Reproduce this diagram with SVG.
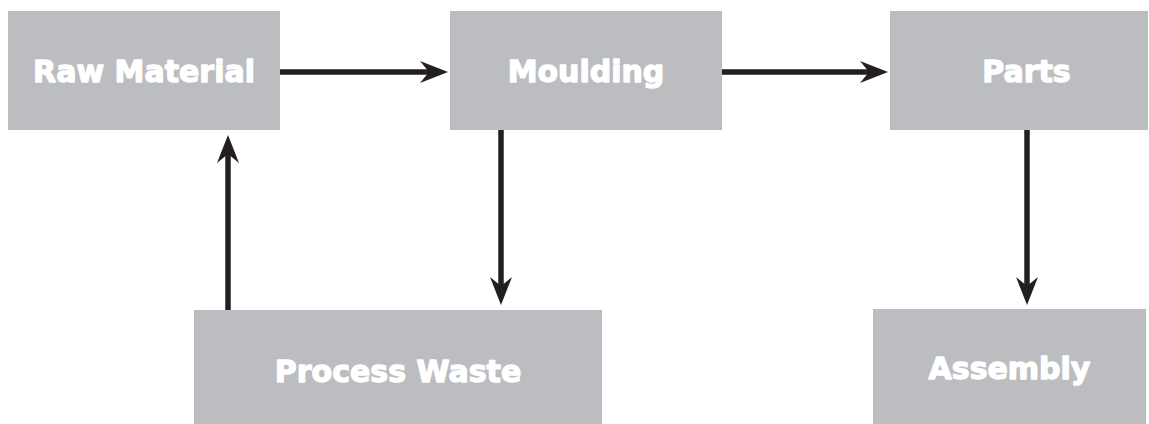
<svg xmlns="http://www.w3.org/2000/svg" width="1149" height="424" viewBox="0 0 1149 424">
  <style>
    .box { fill: #bcbdc0; }
    .label { fill: #ffffff; stroke: #ffffff; stroke-width: 1.3; stroke-linejoin: round; font-family: "DejaVu Sans", "Liberation Sans", sans-serif; font-weight: bold; font-size: 30px; text-anchor: middle; }
    .conn { stroke: #231f20; stroke-width: 5.5; fill: none; marker-end: url(#arrow); }
  </style>
  <defs>
    <marker id="arrow" markerUnits="userSpaceOnUse" viewBox="0 -12 28 24" refX="11" refY="0" markerWidth="28" markerHeight="24" orient="auto">
      <path d="M28,0 L0,-11 L9,0 L0,11 Z" fill="#231f20"/>
    </marker>
  </defs>
  <rect width="1149" height="424" fill="#ffffff"/>
  <g id="raw-material">
    <rect class="box" x="8" y="11" width="272" height="119"/>
    <text class="label" x="144" y="82">Raw Material</text>
  </g>
  <g id="moulding">
    <rect class="box" x="450" y="11" width="272" height="119"/>
    <text class="label" x="586" y="82">Moulding</text>
  </g>
  <g id="parts">
    <rect class="box" x="890" y="11" width="258" height="119"/>
    <text class="label" x="1026.5" y="82">Parts</text>
  </g>
  <g id="process-waste">
    <rect class="box" x="194" y="310" width="408" height="114"/>
    <text class="label" x="398" y="382">Process Waste</text>
  </g>
  <g id="assembly">
    <rect class="box" x="873" y="309" width="273" height="115"/>
    <text class="label" x="1009.5" y="379">Assembly</text>
  </g>
  <g id="connectors">
    <line class="conn" x1="280" y1="72" x2="431" y2="72"/>
    <line class="conn" x1="722" y1="72" x2="871" y2="72"/>
    <line class="conn" x1="501" y1="130" x2="501" y2="288"/>
    <line class="conn" x1="228" y1="310" x2="228" y2="152"/>
    <line class="conn" x1="1027" y1="130" x2="1027" y2="288"/>
  </g>
</svg>
